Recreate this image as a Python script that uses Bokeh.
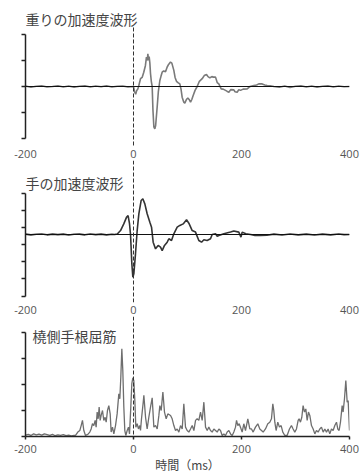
from bokeh.plotting import figure
from bokeh.layouts import column
from bokeh.models import Span, Label, FixedTicker, LinearAxis, Range1d
from bokeh.embed import file_html
from bokeh.resources import INLINE

# ---------------- data ----------------
x_ticks = [-200, 0, 200, 400]
x_tick_labels = ["-200", "0", "200", "400"]
event_time = 0

titles = ["重りの加速度波形", "手の加速度波形", "橈側手根屈筋"]
x_axis_title = "時間（ms）"

# weight acceleration (arbitrary units)
t1 = [-200, -190, -180, -170, -160, -150, -140, -130, -120, -110, -100, -90, -80, -70, -60, -50, -40, -30, -20, -10,
      0, 2, 4, 6, 8, 10, 13, 16, 19, 22, 24, 25.5, 26.6, 28, 29, 30.3, 31.5, 33, 34.6, 36, 37.7, 39.5, 41, 43.8,
      46, 48.8, 51, 53.1, 56, 59.3, 62.4, 65, 68.5, 71, 74.7, 77, 79.6, 83, 85.8, 88, 90.1, 93, 95.1, 98, 100.6,
      103, 105.6, 108, 110.5, 114, 117.9, 122, 127.2, 131, 135.2, 138, 141.4, 145, 148, 151.9, 155, 158, 162.4,
      166, 170.4, 173, 176.6, 180, 185.8, 188, 192, 195, 198.2, 203, 210.5, 216, 222.9, 228, 232, 238.3, 243,
      247.5, 253, 259.9, 270, 280, 290, 300, 310, 320, 330, 340, 350, 360, 370, 380, 390, 400]
a1 = [0.02, -0.03, 0.01, 0.03, -0.02, 0.0, 0.03, -0.02, 0.02, -0.03, 0.01, 0.03, -0.02, 0.02, -0.01, 0.03, -0.02, 0.01, 0.02, -0.02,
      0.0, -0.2, -0.3, -0.15, -0.1, 0.05, 0.3, 0.35, 0.55, 0.8, 1.13, 1.0, 1.26, 1.0, 1.15, 0.9, 0.5, 0.2, 0.0, -0.9,
      -1.55, -1.63, -1.5, -0.8, -0.2, 0.23, 0.4, 0.55, 0.6, 0.57, 0.75, 0.85, 0.94, 0.9, 0.62, 0.35, 0.2, 0.14, 0.1,
      -0.1, -0.41, -0.6, -0.64, -0.5, -0.44, -0.5, -0.6, -0.5, -0.35, -0.15, 0.0, 0.2, 0.3, 0.42, 0.46, 0.38, 0.33,
      0.38, 0.36, 0.36, 0.15, 0.1, -0.09, -0.1, -0.15, -0.18, -0.22, -0.12, -0.13, -0.2, -0.22, -0.12, -0.15, -0.1,
      -0.09, 0.0, 0.04, 0.06, 0.1, 0.1, 0.06, 0.04, 0.03, 0.0, -0.03, 0.02, -0.04, 0.01, 0.03, -0.02, 0.02, -0.03,
      0.01, 0.03, -0.02, 0.02, -0.01, 0.0]

# hand acceleration (arbitrary units)
t2 = [-200, -190, -180, -170, -160, -150, -140, -130, -120, -110, -100, -90, -80, -70, -60, -50, -40, -35,
      -30, -24, -18, -13, -10, -7.4, -5.5, -3.1, -1.2, 0.6, 3.7, 6.8, 9.9, 14.2, 17.3, 21, 25.3, 30.3, 33.4,
      36.4, 40.8, 45.7, 50, 53.1, 57.4, 62.4, 65.5, 70.4, 74.7, 80.9, 85.8, 92, 98.2, 102.5, 108.7, 114.8, 121,
      126, 130.3, 136.4, 142.6, 145.7, 151.9, 155, 158, 167.3, 179.7, 185.8, 195, 199, 201.3, 208, 216.7, 225,
      235, 247, 260, 275, 290, 305, 320, 335, 350, 365, 380, 390, 400]
a2 = [0.02, -0.02, 0.01, 0.03, -0.02, 0.02, -0.01, 0.02, -0.03, 0.01, 0.02, -0.02, 0.03, -0.01, 0.02, -0.02, 0.01, 0.0,
      0.03, 0.23, 0.62, 1.0, 1.11, 0.63, 0.0, -1.7, -2.5, -2.3, -1.13, 0.23, 1.21, 1.99, 2.09, 1.79, 1.21, 0.72, 0.43,
      -0.45, -0.84, -0.64, -0.74, -0.94, -0.64, -0.45, -0.25, -0.35, 0.04, 0.43, 0.53, 0.62, 0.86, 0.66, 0.23, 0.14,
      -0.35, -0.45, -0.31, -0.35, -0.25, 0.0, 0.04, -0.1, -0.06, 0.04, 0.14, 0.2, 0.14, -0.15, 0.14, 0.04, 0.0, -0.05,
      -0.06, -0.04, 0.02, -0.03, 0.03, -0.02, 0.02, -0.03, 0.02, -0.02, 0.03, -0.01, 0.0]

# flexor carpi radialis EMG (arbitrary units)
t3 = [-200, -195, -190, -185, -180, -175, -170, -165, -160, -155, -150, -145, -140, -135, -130, -125, -120, -115, -110,
      -107.4, -103.1, -99.4, -96.9, -94.5, -92, -88.9, -84.6, -80.9, -78.4, -76, -73.5, -71, -69.2, -67.3, -65.4,
      -63.6, -61.7, -59.9, -57.4, -55, -52.5, -50.6, -48.2, -45.7, -43.2, -41.4, -38.9, -36.4, -33.3, -30.3, -27.2,
      -25.3, -23.5, -21.6, -19.8, -17.9, -16.1, -14.2, -11.7, -9.3, -7.4, -5, -3.1, -1.2, 0.6, 2.5, 4.3, 6.8, 9.2,
      11.7, 13, 14.8, 17.9, 19.2, 22.3, 25.3, 28.4, 31.5, 34.6, 37.7, 40.8, 43.9, 47, 48.8, 51.3, 54.4, 57.4, 60.5,
      63.6, 68.6, 71.6, 74.7, 77.8, 80.9, 84, 87.1, 90.2, 93.2, 96.3, 99.4, 102.5, 105.6, 108.7, 111.8, 114.9, 117.9,
      121, 124.1, 127.2, 130.3, 133.4, 136.5, 139.5, 142.6, 145.7, 148.8, 155, 158.1, 161.1, 164.2, 167.3, 170.4,
      173.5, 176.6, 179.7, 182.8, 185.8, 188.9, 190.8, 193.2, 195.7, 198.2, 201.2, 204.3, 207.4, 211.7, 215.4,
      218.5, 221.6, 225.9, 230.2, 233.9, 237, 240.1, 244.4, 248.7, 252.4, 255.5, 258, 259.8, 261.7, 264.1, 267.2,
      270.3, 273.4, 276.5, 280.2, 284.5, 288.8, 292.5, 295.6, 298.7, 301.8, 304.9, 306.7, 309.2, 311.7, 314.1,
      316.6, 319.1, 321.6, 324, 326.5, 329.6, 332.7, 335.8, 338.8, 341.9, 345, 348.1, 351.2, 354.3, 357.4, 360.4,
      363.5, 366.6, 369.7, 372.8, 375.9, 378.3, 380.8, 383.3, 386.4, 388.2, 390.7, 393.2, 395.7, 397.5, 400]
e3 = [0.05, 0.08, 0.04, 0.1, 0.06, 0.09, 0.05, 0.1, 0.07, 0.04, 0.08, 0.03, 0.06, 0.04, 0.07, 0.03, 0.05, 0.02, 0.04,
      0.04, 0.17, 0.23, 0.42, 0.62, 0.23, 0.04, 0.08, 0.17, 0.29, 0.49, 0.42, 0.62, 0.36, 0.94, 0.68,
      1.13, 0.62, 0.81, 1.0, 0.62, 0.74, 0.55, 1.0, 1.19, 0.87, 0.17, 0.36, 0.1, 0.42, 0.87, 1.64,
      1.45, 2.28, 3.37, 2.54, 1.13, 0.23, 0.04, 0.23, 0.36, 0.1, 1.13, 2.03, 2.26, 2.15, 1.38, 0.36, 0.49, 0.29,
      0.42, 0.23, 0.68, 1.3, 1.58, 0.74, 0.29, 0.74, 1.13, 1.49, 0.36, 0.42, 0.29, 0.81, 1.19, 1.0, 1.71, 0.94, 0.68,
      0.87, 0.81, 0.68, 0.42, 0.23, 0.29, 0.17, 0.42, 0.29, 1.26, 0.36, 0.23, 0.17, 0.29, 0.42, 0.23, 0.62, 0.68,
      0.62, 0.94, 0.62, 1.32, 0.36, 0.23, 0.36, 0.23, 0.17, 0.29, 0.17, 0.29, 0.23, 0.04, 0.1, 0.04,
      0.17, 0.23, 0.1, 0.04, 0.17, 0.36, 0.62, 0.42, 0.49, 0.35, 0.17, 0.49, 0.23, 0.68, 0.29,
      0.29, 0.17, 0.36, 0.49, 0.29, 0.23, 0.17, 0.29, 0.49, 0.55, 0.68, 1.26, 1.0, 0.55, 0.23, 0.55,
      0.36, 0.42, 0.17, 0.04, 0.04, 0.29, 0.42, 0.29, 0.17, 0.29, 0.62, 0.68, 0.55, 0.74, 1.19,
      0.94, 1.06, 0.62, 0.94, 0.81, 0.42, 0.29, 0.1, 0.23, 0.17, 0.29, 0.36, 0.17, 0.29, 0.17, 0.29,
      0.1, 0.29, 0.23, 0.42, 0.55, 0.29, 0.23, 0.55, 1.19, 0.94, 1.45, 2.15, 1.32, 1.38, 0.23]

# ---------------- styling ----------------
TICK_FONT = "Open Sans"
CJK_FONT = "Noto Sans CJK JP"
AX_COLOR = "#222222"
DASH_COLOR = "#333333"


def make_panel(frame_h, y_lo, y_hi, y_ticks, top_border=0, bottom_axis_line=False):
    p = figure(frame_width=324, frame_height=frame_h,
               x_range=Range1d(x_ticks[0], x_ticks[-1]), y_range=Range1d(y_lo, y_hi),
               output_backend="svg", toolbar_location=None,
               x_axis_location="below", y_axis_location=None,
               min_border_left=25, min_border_right=11, min_border_top=top_border, min_border_bottom=0)
    p.outline_line_color = None
    p.xgrid.visible = False
    p.ygrid.visible = False
    p.background_fill_color = "white"
    p.border_fill_color = "white"
    # y axis (no numeric labels in the original)
    yax = LinearAxis(ticker=FixedTicker(ticks=y_ticks), bounds=(min(y_ticks), max(y_ticks)),
                     major_label_overrides={t: "" for t in y_ticks}, major_label_standoff=0,
                     axis_line_color=AX_COLOR, axis_line_width=1.5,
                     major_tick_line_color=AX_COLOR, major_tick_line_width=1.5,
                     major_tick_out=4, major_tick_in=0, minor_tick_line_color=None)
    p.add_layout(yax, "left")
    # x axis
    xa = p.xaxis[0]
    xa.ticker = FixedTicker(ticks=x_ticks)
    xa.major_label_overrides = {k: v for k, v in zip(x_ticks, x_tick_labels)}
    xa.major_label_text_font = TICK_FONT
    xa.major_label_text_font_size = "11px"
    xa.major_label_text_color = "#555555"
    xa.minor_tick_line_color = None
    if bottom_axis_line:
        xa.axis_line_color = AX_COLOR
        xa.axis_line_width = 1.5
        xa.major_tick_line_color = AX_COLOR
        xa.major_tick_line_width = 1.5
        xa.major_tick_out = 3
        xa.major_tick_in = 0
        xa.major_label_standoff = 5
    else:
        xa.axis_line_color = None
        xa.major_tick_line_color = None
        xa.major_tick_out = 0
        xa.major_tick_in = 0
        xa.major_label_standoff = 3
    return p


def add_title(p, x, y, text):
    p.add_layout(Label(x=x, y=y, text=text, text_align="left", text_baseline="middle",
                       text_font=CJK_FONT, text_font_size="14px", text_color="#444444"))


# panel 1: weight acceleration (frame page y 8..146, zero at 86, 26 px/unit)
p1 = make_panel(138, -2.308, 3.0, [-2, -1, 0, 1, 2], top_border=8)
p1.line(t1, a1, line_color="#7a7a7a", line_width=1.6)
p1.add_layout(Span(location=0, dimension="width", line_color="#111111", line_width=1.2))
p1.segment(x0=[event_time], y0=[2.27], x1=[event_time], y1=[-2.308], line_color=DASH_COLOR,
           line_width=1, line_dash="4 2")
add_title(p1, -200, 2.58, titles[0])

# panel 2: hand acceleration (frame page y 160..302, zero at 234, 17.1 px/unit)
p2 = make_panel(142, -3.977, 4.327, [2.4, 1.4, 0.4, -0.6, -1.6, -2.6, -3.6])
p2.line(t2, a2, line_color="#333333", line_width=1.6)
p2.add_layout(Span(location=0, dimension="width", line_color="#111111", line_width=1.2))
p2.add_layout(Span(location=event_time, dimension="height", line_color=DASH_COLOR, line_width=1, line_dash="4 2"))
add_title(p2, -200, 3.04, titles[1])

# panel 3: EMG (frame page y 316..436, zero at 436, 26 px/unit)
p3 = make_panel(120, 0, 4.615, [0, 1, 2, 3, 4], bottom_axis_line=True)
p3.line(t3, e3, line_color="#6e6e6e", line_width=1.3)
p3.add_layout(Span(location=event_time, dimension="height", line_color=DASH_COLOR, line_width=1, line_dash="4 2"))
add_title(p3, -187, 3.85, titles[2])
xa3 = p3.xaxis[0]
xa3.axis_label = x_axis_title
xa3.axis_label_standoff = 0
xa3.axis_label_text_font = CJK_FONT
xa3.axis_label_text_font_size = "12px"
xa3.axis_label_text_font_style = "normal"
xa3.axis_label_text_color = "#444444"

layout = column(p1, p2, p3, spacing=0)
open("out.html", "w").write(file_html(layout, INLINE))
